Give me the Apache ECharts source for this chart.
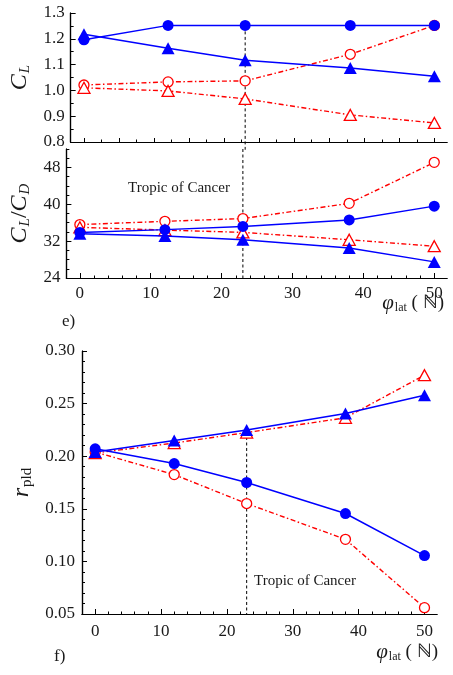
<!DOCTYPE html>
<html>
<head>
<meta charset="utf-8">
<script src="https://cdn.jsdelivr.net/npm/echarts@6/dist/echarts.min.js"></script>
<style>
  html, body { margin: 0; padding: 0; background: #fff; }
  #chart { width: 453px; height: 675px; }
</style>
</head>
<body>
<div id="chart"></div>
<script>
// latitudes of the five sites
const lat = [0, 12, 23, 38, 50];
const tropic = 23;

// panel e) top: C_L
const clBlueCircle = [1.196, 1.252, 1.252, 1.252, 1.252];
const clBlueTri = [1.218, 1.163, 1.117, 1.087, 1.055];
const clRedCircle = [1.021, 1.033, 1.037, 1.14, 1.252];
const clRedTri = [1.010, 0.998, 0.967, 0.905, 0.874];
const clTropic = [1.25, 0.77];

// panel e) bottom: C_L/C_D
const ldBlueCircle = [33.9, 34.5, 35.2, 36.6, 39.6];
const ldBlueTri = [33.6, 33.1, 32.3, 30.5, 27.5];
const ldRedCircle = [35.6, 36.3, 36.9, 40.2, 49.1];
const ldRedTri = [35.0, 34.4, 33.9, 32.3, 30.9];
const ldTropic = [52, 24];

// panel f): r_pld
const rBlueCircle = [0.207, 0.193, 0.175, 0.1455, 0.1055];
const rBlueTri = [0.204, 0.215, 0.225, 0.2405, 0.258];
const rRedCircle = [0.204, 0.1825, 0.155, 0.121, 0.056];
const rRedTri = [0.203, 0.2125, 0.2225, 0.2365, 0.277];
const rTropic = [0.2235, 0.05];

// ticks
const xLabels = [0, 10, 20, 30, 40, 50];
const xMajorTop = [0, 5, 10, 15, 20, 25, 30, 35, 40, 45, 50];
const xMinorTop = [2.5, 7.5, 12.5, 17.5, 22.5, 27.5, 32.5, 37.5, 42.5, 47.5];
const xMinor = [2, 4, 6, 8, 12, 14, 16, 18, 22, 24, 26, 28, 32, 34, 36, 38, 42, 44, 46, 48];
const clTicks = [0.8, 0.9, 1.0, 1.1, 1.2, 1.3];
const clMinor = [0.85, 0.95, 1.05, 1.15, 1.25];
const ldTicks = [24, 32, 40, 48];
const ldMinor = [26, 28, 30, 34, 36, 38, 42, 44, 46, 50, 52];
const rTicks = [0.05, 0.10, 0.15, 0.20, 0.25, 0.30];
const rMinor = [0.06, 0.07, 0.08, 0.09, 0.11, 0.12, 0.13, 0.14, 0.16, 0.17, 0.18, 0.19,
  0.21, 0.22, 0.23, 0.24, 0.26, 0.27, 0.28, 0.29];

const FONT = 'Liberation Serif';
const BLUE = '#0000ff';
const RED = '#ff0000';
const TXT = '#1a1a1a';

const pair = (xs, ys) => xs.map((x, i) => [x, ys[i]]);

const axisLine = { show: true, onZero: false, lineStyle: { color: '#000', width: 1.2 } };

function xAx(grid, min, max, ticks, len, labels, margin) {
  return {
    type: 'value', gridIndex: grid, min: min, max: max, position: 'bottom',
    axisLine: axisLine,
    splitLine: { show: false },
    axisTick: { show: true, inside: true, length: len, customValues: ticks, lineStyle: { color: '#000', width: 1 } },
    axisLabel: labels ? {
      show: true, customValues: labels, margin: margin,
      fontFamily: FONT, fontSize: 17, color: TXT
    } : { show: false }
  };
}

function yAx(grid, min, max, ticks, len, labels, digits, margin, name, nameGap) {
  const ax = {
    type: 'value', gridIndex: grid, min: min, max: max, position: 'left',
    axisLine: axisLine,
    splitLine: { show: false },
    axisTick: { show: true, inside: true, length: len, customValues: ticks, lineStyle: { color: '#000', width: 1 } },
    axisLabel: labels ? {
      show: true, customValues: labels, margin: margin,
      fontFamily: FONT, fontSize: 17, color: TXT,
      formatter: v => v.toFixed(digits)
    } : { show: false }
  };
  if (name) {
    ax.name = name;
    ax.nameLocation = 'middle';
    ax.nameRotate = 90;
    ax.nameGap = nameGap;
    ax.nameTextStyle = {
      fontFamily: FONT, color: TXT,
      rich: {
        i: { fontFamily: FONT, fontStyle: 'italic', fontSize: 24, color: TXT },
        s: { fontFamily: FONT, fontStyle: 'italic', fontSize: 15, color: TXT, padding: [10, 0, 0, 1] },
        n: { fontFamily: FONT, fontSize: 15, color: TXT, padding: [10, 0, 0, 1] },
        t: { fontFamily: FONT, fontSize: 24, color: TXT }
      }
    };
  }
  return ax;
}

function blue(xi, yi, ys, sym, size) {
  return {
    type: 'line', xAxisIndex: xi, yAxisIndex: yi, data: pair(lat, ys),
    symbol: sym, symbolSize: size, z: 4,
    itemStyle: { color: BLUE },
    lineStyle: { color: BLUE, width: 1.5 }
  };
}
function red(xi, yi, ys, sym, size) {
  return {
    type: 'line', xAxisIndex: xi, yAxisIndex: yi, data: pair(lat, ys),
    symbol: sym, symbolSize: size, z: 3,
    itemStyle: { color: '#fff', borderColor: RED, borderWidth: 1.3 },
    lineStyle: { color: RED, width: 1.4, type: [5, 2.5, 1.5, 2.5] }
  };
}
function tropicLine(xi, yi, ys) {
  return {
    type: 'line', xAxisIndex: xi, yAxisIndex: yi, clip: false, z: 2,
    data: ys.map(v => [tropic, v]), symbol: 'none',
    lineStyle: { color: '#000', width: 1, type: [3, 2.5] }
  };
}

const xName = {
  text: '{p|φ}{s|lat}{t| ( ℕ)}', fontFamily: FONT, fill: TXT,
  rich: {
    p: { fontFamily: FONT, fontStyle: 'italic', fontSize: 21, color: TXT },
    s: { fontFamily: FONT, fontSize: 12, color: TXT, padding: [9, 0, 0, 1] },
    t: { fontFamily: FONT, fontSize: 19, color: TXT }
  }
};

const chart = echarts.init(document.getElementById('chart'));
chart.setOption({
  animation: false,
  backgroundColor: '#fff',
  grid: [
    { left: 66, top: 13, width: 381, height: 129 },
    { left: 66, top: 149, width: 381, height: 129 },
    { left: 82, top: 351, width: 355, height: 263 }
  ],
  xAxis: [
    xAx(0, -1.9, 51.8, xMajorTop, 4, null),
    xAx(0, -1.9, 51.8, xMinorTop, 2.5, null),
    xAx(1, -1.9, 51.8, xLabels, 5, xLabels, 7),
    xAx(1, -1.9, 51.8, xMinor, 2.5, null),
    xAx(2, -2, 51.9, xLabels, 5, xLabels, 9),
    xAx(2, -2, 51.9, xMinor, 2.5, null)
  ],
  yAxis: [
    yAx(0, 0.8, 1.3, clTicks, 5, clTicks, 1, 6, '{i|C}{s|L}', 32),
    yAx(0, 0.8, 1.3, clMinor, 3, null),
    yAx(1, 24, 52, ldTicks, 5, ldTicks, 0, 6, '{i|C}{s|L}{t|/}{i|C}{s|D}', 29),
    yAx(1, 24, 52, ldMinor, 3, null),
    yAx(2, 0.05, 0.30, rTicks, 5, rTicks, 2, 7, '{i|r}{n|pld}', 38),
    yAx(2, 0.05, 0.30, rMinor, 3, null)
  ],
  series: [
    tropicLine(0, 0, clTropic),
    red(0, 0, clRedCircle, 'circle', 10),
    red(0, 0, clRedTri, 'triangle', [12, 11]),
    blue(0, 0, clBlueCircle, 'circle', 11),
    blue(0, 0, clBlueTri, 'triangle', [13, 12]),

    tropicLine(2, 2, ldTropic),
    red(2, 2, ldRedCircle, 'circle', 10),
    red(2, 2, ldRedTri, 'triangle', [12, 11]),
    blue(2, 2, ldBlueCircle, 'circle', 11),
    blue(2, 2, ldBlueTri, 'triangle', [13, 12]),

    tropicLine(4, 4, rTropic),
    red(4, 4, rRedCircle, 'circle', 10),
    red(4, 4, rRedTri, 'triangle', [12, 11]),
    blue(4, 4, rBlueCircle, 'circle', 11),
    blue(4, 4, rBlueTri, 'triangle', [13, 12])
  ],
  graphic: [
    { type: 'text', left: 128, top: 181, style: { text: 'Tropic of Cancer', fontFamily: FONT, fontSize: 15, fill: TXT } },
    { type: 'text', left: 254, top: 574, style: { text: 'Tropic of Cancer', fontFamily: FONT, fontSize: 15, fill: TXT } },
    { type: 'text', left: 62, top: 313, style: { text: 'e)', fontFamily: FONT, fontSize: 17, fill: TXT } },
    { type: 'text', left: 54, top: 648, style: { text: 'f)', fontFamily: FONT, fontSize: 17, fill: TXT } },
    { type: 'text', right: 9, top: 293, style: xName },
    { type: 'text', right: 15, top: 642, style: xName }
  ]
});
</script>
</body>
</html>
